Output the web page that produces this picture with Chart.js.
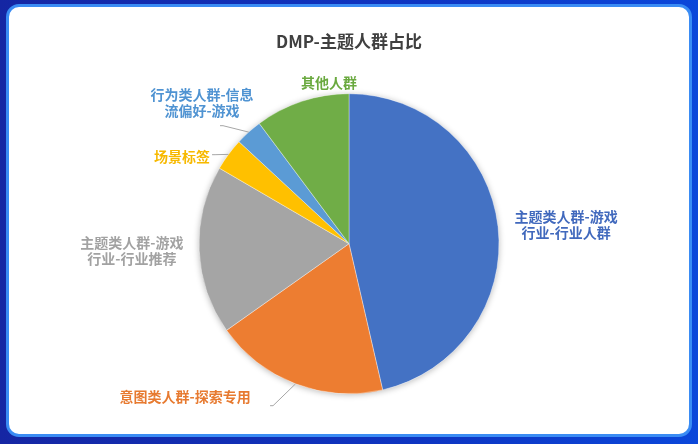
<!DOCTYPE html>
<html>
<head>
<meta charset="utf-8">
<script src="https://cdn.jsdelivr.net/npm/chart.js@4.4.1/dist/chart.umd.min.js"></script>
<style>
  html, body { margin: 0; padding: 0; }
  body {
    width: 698px; height: 444px; overflow: hidden; position: relative;
    background: linear-gradient(90deg, #1526a3 0%, #0e35c2 60%, #0b47da 100%);
  }
  .card {
    position: absolute; left: 6px; top: 4px; width: 680px; height: 427px;
    border: 3px solid #3a8cf4; border-radius: 13px; background: #fff;
  }
  #wrap { position: absolute; left: 0; top: 0; width: 698px; height: 444px; }
</style>
</head>
<body>
<div class="card"></div>
<div id="wrap"><canvas id="myChart"></canvas></div>
<script>
// categories (label lines) and their share in %
const categories = [
  ["主题类人群-游戏", "行业-行业人群"],
  ["意图类人群-探索专用"],
  ["主题类人群-游戏", "行业-行业推荐"],
  ["场景标签"],
  ["行为类人群-信息", "流偏好-游戏"],
  ["其他人群"]
];
const shares = [46.4, 18.8, 18.2, 3.5, 2.9, 10.2];
const sliceColors = ["#4472c4", "#ed7d31", "#a5a5a5", "#ffc000", "#5b9bd5", "#70ad47"];
const labelColors = ["#4169bd", "#e77a30", "#a2a2a2", "#f7b900", "#4f93d2", "#6aa93f"];

const FONT = "'Noto Sans CJK SC', 'Microsoft YaHei', sans-serif";

// where excel put each data label: offset from pie centre, in radii
const labelPos = [
  { x: 1.447, y: -0.127 },
  { x: -1.093, y: 1.02 },
  { x: -1.447, y: 0.047 },
  { x: -1.113, y: -0.58 },
  { x: -0.98, y: -0.94 },
  { x: -0.133, y: -1.073 }
];
// leader line start, px from label centre (null = no line)
const leaders = [null, { x: 85, y: 9 }, null, { x: 30, y: -2 }, { x: 18, y: 23 }, null];

const pieLabels = {
  id: "pieLabels",
  beforeDatasetsDraw(chart) {
    const arc = chart.getDatasetMeta(0).data[0];
    if (!arc) return;
    const { x, y, outerRadius } = arc.getProps(["x", "y", "outerRadius"], true);
    const ctx = chart.ctx;
    ctx.save();
    ctx.shadowColor = "rgba(0,0,0,0.28)";
    ctx.shadowBlur = 6;
    ctx.shadowOffsetY = 1;
    ctx.fillStyle = "#fff";
    ctx.beginPath();
    ctx.arc(x, y, outerRadius, 0, Math.PI * 2);
    ctx.fill();
    ctx.restore();
  },
  afterDatasetsDraw(chart) {
    const ctx = chart.ctx;
    const meta = chart.getDatasetMeta(0);
    ctx.save();
    ctx.font = "bold 14px " + FONT;
    ctx.textAlign = "center";
    ctx.textBaseline = "middle";
    meta.data.forEach((el, i) => {
      const p = el.getProps(["x", "y", "startAngle", "endAngle", "outerRadius"], true);
      const r = p.outerRadius;
      const cx = p.x + labelPos[i].x * r;
      const cy = p.y + labelPos[i].y * r;
      const lines = categories[i];
      const lh = 16.5;
      ctx.fillStyle = labelColors[i];
      lines.forEach((t, k) => {
        ctx.fillText(t, cx, cy + (k - (lines.length - 1) / 2) * lh);
      });
      if (leaders[i]) {
        const mid = (p.startAngle + p.endAngle) / 2;
        const ex = p.x + Math.cos(mid) * r;
        const ey = p.y + Math.sin(mid) * r;
        const sx = cx + leaders[i].x;
        const sy = cy + leaders[i].y;
        ctx.strokeStyle = "#a6a6a6";
        ctx.lineWidth = 1;
        ctx.beginPath();
        ctx.moveTo(sx, sy);
        ctx.lineTo(sx + 3, sy);
        ctx.lineTo(ex, ey);
        ctx.stroke();
      }
    });
    ctx.restore();
  }
};

const ctx = document.getElementById("myChart");

new Chart(ctx, {
  type: "pie",
  data: {
    labels: categories,
    datasets: [
      {
        data: shares,
        backgroundColor: sliceColors,
        borderColor: "rgba(255,255,255,0.6)",
        borderWidth: 0.6,
      },
    ],
  },
  options: {
    responsive: true,
    maintainAspectRatio: false,
    animation: false,
    layout: { padding: { top: 0, bottom: 50, left: 0, right: 0 } },
    plugins: {
      legend: { display: false },
      tooltip: { enabled: false },
      title: {
        display: true,
        text: "DMP-主题人群占比",
        color: "#404040",
        font: { size: 17, weight: "bold", family: FONT },
        padding: { top: 31, bottom: 42 },
      },
    },
  },
  plugins: [pieLabels],
});
</script>
</body>
</html>
